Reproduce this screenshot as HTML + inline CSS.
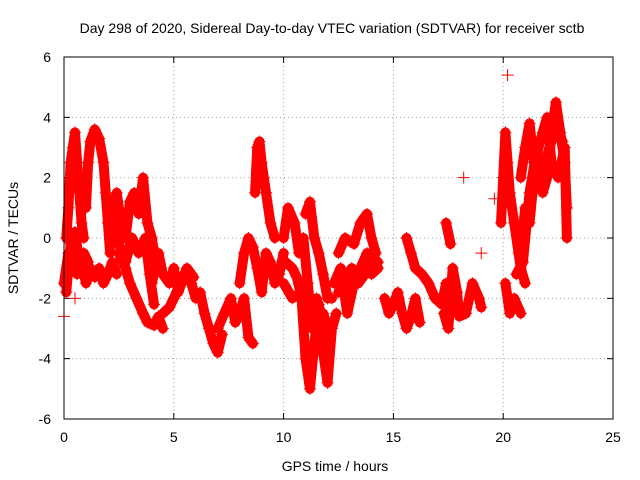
<!DOCTYPE html>
<html><head><meta charset="utf-8">
<style>
body{margin:0;background:#fff;}
svg{display:block;font-family:"Liberation Sans",sans-serif;}
</style></head>
<body>
<svg id="chart" width="640" height="480" viewBox="0 0 640 480">
<text x="332" y="33" font-size="14" text-anchor="middle">Day 298 of 2020, Sidereal Day-to-day VTEC variation (SDTVAR) for receiver sctb</text>
<text x="335" y="471" font-size="14" text-anchor="middle">GPS time / hours</text>
<text transform="translate(18,238) rotate(-90)" font-size="14" text-anchor="middle">SDTVAR / TECUs</text>
<g id="grid"></g>
<g id="ticks"></g>
<g id="marks"></g>
<rect x="64" y="57" width="549" height="362" fill="none" stroke="#000" stroke-width="1"/>
</svg>
<script>
const xTicks=[0,5,10,15,20,25];
const yTicks=[-6,-4,-2,0,2,4,6];
const seg1=[[0.1,0],[0.2,1],[0.3,2.5],[0.4,3],[0.5,3.5],[0.6,2.5],[0.7,1.5],[0.8,0.5],[0.9,0]];
const seg2=[[0,-1.5],[0.2,-0.5],[0.4,-1],[0.6,-1.2],[0.8,-0.8],[1.0,-1.5],[1.2,-1],[1.4,-1.3],[1.6,-1],[1.8,-1.5],[2.0,-1.2],[2.2,-0.8],[2.4,-1.2]];
const seg3=[[1.0,1],[1.1,2.5],[1.2,3.2],[1.4,3.6],[1.6,3.3],[1.8,2.5],[1.9,1.5],[2.0,0.5],[2.1,-0.5]];
const seg4=[[2.0,0.5],[2.2,1],[2.4,1.5],[2.6,0.5],[2.8,0],[3.0,1.2],[3.2,1.5],[3.4,0.8],[3.6,2],[3.8,0.5],[4.0,0],[4.2,-1]];
const seg5=[[2.5,-0.5],[2.8,-1],[3.0,-1.5],[3.3,-2],[3.6,-2.5],[3.8,-2.8],[4.1,-2.9],[4.3,-2.6],[4.5,-3]];
const seg6=[[4.0,-1.5],[4.3,-0.5],[4.5,-1.2],[4.8,-1.5],[5.0,-1],[5.2,-1.8],[5.5,-1.2],[5.8,-1.5],[6.0,-2],[6.2,-1.8],[6.4,-2.5],[6.6,-3],[6.8,-3.5],[7.0,-3.8],[7.2,-3.2]];
const seg7=[[4.5,-2.5],[4.8,-2.3],[5.0,-2.0],[5.3,-1.5],[5.6,-1.0],[5.9,-1.3]];
const seg8=[[7.0,-3],[7.3,-2.5],[7.6,-2],[7.8,-2.8],[8.0,-2.5],[8.2,-2],[8.4,-3.3],[8.6,-3.5]];
const seg9=[[8.0,-1.5],[8.2,-0.5],[8.4,0],[8.6,-0.3],[8.8,-1],[9.0,-1.8],[9.2,-0.5],[9.4,-0.8],[9.6,-1.5],[9.8,-1.2],[10.0,-0.5]];
const seg10=[[8.7,1.5],[8.8,3],[8.9,3.2],[9.0,2.5],[9.1,2],[9.2,1.5],[9.4,0.5],[9.6,0]];
const seg11=[[10.0,0],[10.2,1],[10.5,0.5],[10.7,-0.5],[10.9,0],[11.1,-1.5],[11.3,-3],[11.5,-2],[11.7,-2.5]];
const seg12=[[10.0,-1.5],[10.4,-2],[10.8,-1.8],[11.0,-4],[11.2,-5],[11.4,-3.5],[11.6,-2.2],[11.8,-3.8],[12.0,-4.8],[12.2,-3],[12.4,-2.5]];
const seg13=[[11.0,0.8],[11.2,1.2],[11.4,0],[11.6,-0.5],[11.8,-1.2],[12.0,-2],[12.2,-2]];
const seg14=[[12.3,-1.5],[12.6,-1],[12.9,-2.5],[13.2,-1.5],[13.5,-1],[13.8,-0.5],[14.0,-1.2],[14.3,-1]];
const seg15=[[12.5,-0.5],[12.8,0],[13.2,-0.2],[13.5,0.5],[13.8,0.8],[14.0,0],[14.2,-0.5]];
const seg16=[[14.6,-2],[14.8,-2.5],[15.0,-2.2],[15.2,-1.8],[15.4,-2.5],[15.6,-3],[15.8,-2.6],[16.0,-2],[16.2,-2.8]];
const seg17=[[15.6,0],[15.8,-0.5],[16.0,-1],[16.3,-1.2],[16.6,-1.5],[16.9,-2],[17.2,-2.2],[17.4,-1.5]];
const seg18=[[17.3,-2.5],[17.5,-3],[17.7,-1],[17.9,-1.8],[18.0,-2.6],[18.3,-2.5],[18.6,-1.5],[18.9,-2],[19.0,-2.3]];
const seg19=[[19.9,0.5],[20.0,2],[20.1,3.5],[20.2,2.5],[20.3,1.5],[20.5,0.5],[20.7,-0.5],[20.8,-1],[21.0,-1.5]];
const seg20=[[20.1,-1.5],[20.3,-2.5],[20.5,-2],[20.8,-2.5]];
const seg21=[[20.8,2],[21.0,3],[21.2,3.8],[21.4,2.5],[21.6,2],[21.8,1.5],[22.0,2],[22.2,3.5],[22.4,4.5],[22.6,3.5],[22.8,2.5],[22.9,1]];
const seg22=[[20.8,-0.5],[21.0,1],[21.2,0.5],[21.4,2],[21.6,3],[21.8,3.5],[22.0,4],[22.2,2.5],[22.5,2],[22.8,3],[22.9,0]];
const seg23=[[17.4,0.5],[17.6,-0.2]];
const fillA=[[0.1,-1.8],[0.3,-0.2],[0.5,0.2],[0.7,-0.8],[0.9,-0.5],[1.1,-0.8]];
const fillB=[[2.2,0.8],[2.5,-0.2],[2.8,-0.8],[3.1,0],[3.4,-0.5],[3.7,0],[3.9,-1.2],[4.1,-2.2]];
const fillC=[[10.1,-0.8],[10.4,-1],[10.6,-1.3],[10.9,-2.2],[11.2,-2.6],[11.5,-3],[11.8,-2.5],[12.1,-3.2]];
const fillD=[[12.5,-1.8],[12.8,-1.4],[13.1,-1],[13.4,-1.5],[13.7,-1.2],[14.0,-0.6],[14.3,-0.8]];
const fillE=[[20.6,-1.2],[20.9,-0.8],[21.2,1.5],[21.5,2.8],[21.8,2.2],[22.1,3],[22.4,3.6],[22.7,3.2]];
const isolated=[[18.2,2],[19.0,-0.5],[20.2,5.4],[19.6,1.3],[0,-2.6],[0.5,-2]];
const segments=[seg1,seg2,seg3,seg4,seg5,seg6,seg7,seg8,seg9,seg10,seg11,seg12,seg13,seg14,seg15,seg16,seg17,seg18,seg19,seg20,seg21,seg22,seg23,fillA,fillB,fillC,fillD,fillE];

const X0=64,X1=613,Y0=419,Y1=57;
function xs(v){return X0+(v-0)/(25-0)*(X1-X0);}
function ys(v){return Y0-(v+6)/12*(Y0-Y1);}
const NS="http://www.w3.org/2000/svg";
function mk(t,a,p){const e=document.createElementNS(NS,t);for(const k in a)e.setAttribute(k,a[k]);p.appendChild(e);return e;}
const grid=document.getElementById('grid'),ticks=document.getElementById('ticks'),marks=document.getElementById('marks');
xTicks.forEach(t=>{const x=xs(t);
 if(t>0&&t<25){const g=mk('line',{x1:x,x2:x,y1:Y0,y2:Y1,stroke:'#a0a0a0','stroke-dasharray':'1,3'},grid);
 
 }
 mk('line',{x1:x,x2:x,y1:Y0,y2:Y0-6,stroke:'#000'},ticks);
 mk('line',{x1:x,x2:x,y1:Y1,y2:Y1+6,stroke:'#000'},ticks);
 const l=mk('text',{x:x,y:442,'font-size':14,'text-anchor':'middle'},ticks);l.textContent=t;
 
 
});
yTicks.forEach(t=>{const y=ys(t);
 if(t>-6&&t<6){const g=mk('line',{x1:X0,x2:X1,y1:y,y2:y,stroke:'#a0a0a0','stroke-dasharray':'1,3'},grid);
 
 }
 mk('line',{x1:X0,x2:X0+6,y1:y,y2:y,stroke:'#000'},ticks);
 mk('line',{x1:X1,x2:X1-6,y1:y,y2:y,stroke:'#000'},ticks);
 const l=mk('text',{x:51,y:y+5,'font-size':14,'text-anchor':'end'},ticks);l.textContent=t;
 
 
});
function plus(x,y){mk('path',{d:`M${x-6},${y}h12M${x},${y-6}v12`,stroke:'#f00','stroke-width':1,fill:'none'},marks);}
segments.forEach(s=>{
 const pl=mk('polyline',{points:s.map(p=>xs(p[0])+','+ys(p[1])).join(' '),fill:'none',stroke:'#f00','stroke-width':10,'stroke-linejoin':'round','stroke-linecap':'round'},marks);
 
 
 s.forEach(p=>plus(xs(p[0]),ys(p[1])));
});
isolated.forEach(p=>plus(xs(p[0]),ys(p[1])));
</script>
</body></html>
